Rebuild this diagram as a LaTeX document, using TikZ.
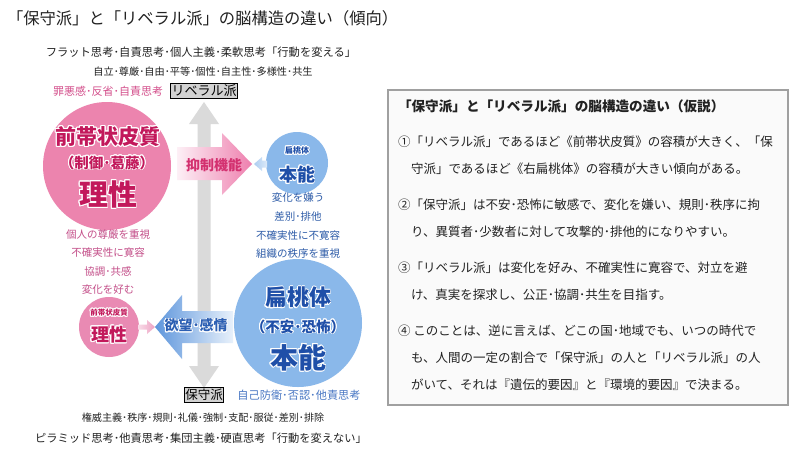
\documentclass[tikz,border=0pt]{standalone}
\usepackage{fontspec}
\setmainfont{Noto Sans CJK JP}
\usepackage{contour}
\contourlength{0.9pt}
\contournumber{16}
\usetikzlibrary{calc}
\pgfdeclarelayer{background}
\pgfsetlayers{background,main}
\definecolor{pinkC}{HTML}{EC84AE}
\definecolor{pinkS}{HTML}{E98AB3}
\definecolor{pinkD}{HTML}{C2185B}
\definecolor{pinkM}{HTML}{C4508A}
\definecolor{pinkT}{HTML}{D4508C}
\definecolor{pinkF1}{HTML}{FCE5EF}
\definecolor{pinkF2}{HTML}{F8CCDF}
\definecolor{pinkA1}{HTML}{FDF0F6}
\definecolor{pinkA2}{HTML}{EE7FAE}
\definecolor{pinkAT}{HTML}{D3306F}
\definecolor{blueC}{HTML}{8AB8EA}
\definecolor{blueD}{HTML}{1F4FA8}
\definecolor{blueM}{HTML}{2E5CA8}
\definecolor{blueT}{HTML}{4A78C4}
\definecolor{blueF1}{HTML}{E6F0FB}
\definecolor{blueF2}{HTML}{D3E5F7}
\definecolor{blueA1}{HTML}{5E96DC}
\definecolor{blueA2}{HTML}{E8F1FB}
\definecolor{blueAT}{HTML}{2C5FB3}
\definecolor{grayA}{HTML}{DADADA}
\definecolor{tagG}{HTML}{D2D2D2}
\definecolor{boxF}{HTML}{FAFAFA}
\definecolor{boxB}{HTML}{A0A0A0}
\definecolor{txt}{HTML}{222222}
\newcommand{\fsz}[1]{\fontsize{#1}{#1}\selectfont}
\tikzset{
  lbl/.style={inner sep=0pt, outer sep=0pt, text=txt},
  tag/.style={draw=black, line width=0.6pt, fill=tagG, inner xsep=1pt, inner ysep=1.5pt, text=black},
  blob/.style={circle, inner sep=0pt, outer sep=0pt, draw=none},
}
\begin{document}
\begin{tikzpicture}[x=1pt,y=-1pt]
\useasboundingbox (0,0) rectangle (800,458);
\fill[white] (0,0) rectangle (800,458);

% circles
\node[blob, fill=pinkC, minimum size=128pt] (acc) at (107,166) {};
\node[blob, fill=pinkS, minimum size=60pt] (accS) at (109,327) {};
\node[blob, fill=blueC, minimum size=62pt] (amyS) at (297,163) {};
\node[blob, fill=blueC, minimum size=128pt] (amy) at (298,323) {};

% funnels
\begin{pgfonlayer}{background}
\shade[top color=pinkF1, bottom color=pinkF2]
  (acc.192.2) -- (accS.192.2) -- (accS.347.8) -- (acc.347.8) -- cycle;
\shade[top color=blueF1, bottom color=blueF2]
  (amyS.168.1) -- (amy.168.1) -- (amy.11.9) -- (amyS.11.9) -- cycle;
\end{pgfonlayer}

% vertical gray double arrow
\fill[grayA] (204,102) -- (219,124) -- (210.5,124) -- (210.5,366) -- (219,366)
  -- (204,388) -- (189,366) -- (197.5,366) -- (197.5,124) -- (189,124) -- cycle;

% pink arrow (inhibition)
\shade[left color=pinkA1, right color=pinkA2]
  (177,147) -- (222,147) -- (222,133) -- (252,164) -- (222,195) -- (222,180) -- (177,180) -- cycle;
% blue arrow (desire)
\shade[left color=blueA1, right color=blueA2]
  (155,327) -- (182,295) -- (182,311) -- (233,311) -- (233,343) -- (182,343) -- (182,359) -- cycle;
% small connecting arrows
\shade[left color=blueC!70, right color=blueC!30]
  (254,164) -- (262,157) -- (262,160.5) -- (267,160.5) -- (267,167.5) -- (262,167.5) -- (262,171) -- cycle;
\shade[left color=pinkS!30, right color=pinkS!80]
  (138,324.5) -- (147,324.5) -- (147,320) -- (155,327) -- (147,334) -- (147,329.5) -- (138,329.5) -- cycle;

% top texts
\node[lbl, anchor=west] (title) at (7,18) {\fsz{16.3}「保守派」と「リベラル派」の脳構造の違い（傾向）};
\node[lbl] (lib1) at (201,52) {\fsz{11.3}フラット思考･自責思考･個人主義･柔軟思考「行動を変える」};
\node[lbl] (lib2) at (203,72) {\fsz{10.2}自立･尊厳･自由･平等･個性･自主性･多様性･共生};
\node[lbl, text=pinkT] (guilt) at (108,91) {\fsz{11}罪悪感･反省･自責思考};
\node[tag] (libtag) at (204,91) {\fsz{13}リベラル派};

% pink big circle texts
\node[lbl, text=pinkD] (accN) at (108,137) {\fsz{21}\bfseries\contour{white}{前帯状皮質}};
\node[lbl, text=pinkD] (accR) at (107,163) {\fsz{14.5}\bfseries\contour{white}{（制御･葛藤）}};
\node[lbl, text=pinkD] (accP) at (108,195) {\fsz{29}\bfseries\contour{white}{理性}};
% pink funnel texts
\node[lbl, text=pinkM] (pf1) at (108,235) {\fsz{10.5}個人の尊厳を重視};
\node[lbl, text=pinkM] (pf2) at (108,253) {\fsz{10.5}不確実性に寛容};
\node[lbl, text=pinkM] (pf3) at (108,272) {\fsz{10.5}協調･共感};
\node[lbl, text=pinkM] (pf4) at (108,290) {\fsz{10.5}変化を好む};
% small pink circle texts
\node[lbl, text=pinkD] (accSN) at (109,313) {\fsz{7.5}\bfseries\contour{white}{前帯状皮質}};
\node[lbl, text=pinkD] (accSP) at (109,335) {\fsz{18}\bfseries\contour{white}{理性}};

% small blue circle texts
\node[lbl, text=blueD] (amySN) at (297,151) {\fsz{8}\bfseries\contour{white}{扁桃体}};
\node[lbl, text=blueD] (amySP) at (297,175) {\fsz{18}\bfseries\contour{white}{本能}};
% blue funnel texts
\node[lbl, text=blueM] (bf1) at (298,198) {\fsz{10.5}変化を嫌う};
\node[lbl, text=blueM] (bf2) at (298,217) {\fsz{10.5}差別･排他};
\node[lbl, text=blueM] (bf3) at (298,236) {\fsz{10.5}不確実性に不寛容};
\node[lbl, text=blueM] (bf4) at (298,254) {\fsz{10.5}組織の秩序を重視};
% big blue circle texts
\node[lbl, text=blueD] (amyN) at (298,298) {\fsz{22}\bfseries\contour{white}{扁桃体}};
\node[lbl, text=blueD] (amyR) at (298,327) {\fsz{14.5}\bfseries\contour{white}{（不安･恐怖）}};
\node[lbl, text=blueD] (amyP) at (298,358) {\fsz{28}\bfseries\contour{white}{本能}};

% arrow texts
\node[lbl, text=pinkAT] (inhib) at (214,165) {\fsz{14}\bfseries 抑制機能};
\node[lbl, text=blueAT] (desire) at (196,326) {\fsz{14}\bfseries\contour{white}{欲望･感情}};

% bottom texts
\node[tag] (constag) at (204,395) {\fsz{12.5}保守派};
\node[lbl, text=blueT] (defense) at (299,395) {\fsz{11.2}自己防衛･否認･他責思考};
\node[lbl] (cons1) at (203,418) {\fsz{10.1}権威主義･秩序･規則･礼儀･強制･支配･服従･差別･排除};
\node[lbl] (cons2) at (201,438) {\fsz{11.25}ピラミッド思考･他責思考･集団主義･硬直思考「行動を変えない」};

% right box
\draw[boxB, fill=boxF, line width=1.2pt] (388,90) rectangle (788,405);
\node[lbl, anchor=west] (htitle) at (398,106) {\fsz{13.6}\bfseries「保守派」と「リベラル派」の脳構造の違い（仮説）};
\node[lbl, anchor=west] (h1a) at (398,142) {\fsz{12.5}①「リベラル派」であるほど《前帯状皮質》の容積が大きく、「保};
\node[lbl, anchor=west] (h1b) at (411,169) {\fsz{12.5}守派」であるほど《右扁桃体》の容積が大きい傾向がある。};
\node[lbl, anchor=west] (h2a) at (398,205) {\fsz{12.5}②「保守派」は不安･恐怖に敏感で、変化を嫌い、規則･秩序に拘};
\node[lbl, anchor=west] (h2b) at (411,232) {\fsz{12.5}り、異質者･少数者に対して攻撃的･排他的になりやすい。};
\node[lbl, anchor=west] (h3a) at (398,268) {\fsz{12.5}③「リベラル派」は変化を好み、不確実性に寛容で、対立を避};
\node[lbl, anchor=west] (h3b) at (411,295) {\fsz{12.5}け、真実を探求し、公正･協調･共生を目指す。};
\node[lbl, anchor=west] (h4a) at (398,331) {\fsz{12.5}④ このことは、逆に言えば、どこの国･地域でも、いつの時代で};
\node[lbl, anchor=west] (h4b) at (411,358) {\fsz{12.5}も、人間の一定の割合で「保守派」の人と「リベラル派」の人};
\node[lbl, anchor=west] (h4c) at (411,385) {\fsz{12.5}がいて、それは『遺伝的要因』と『環境的要因』で決まる。};
\end{tikzpicture}
\end{document}
